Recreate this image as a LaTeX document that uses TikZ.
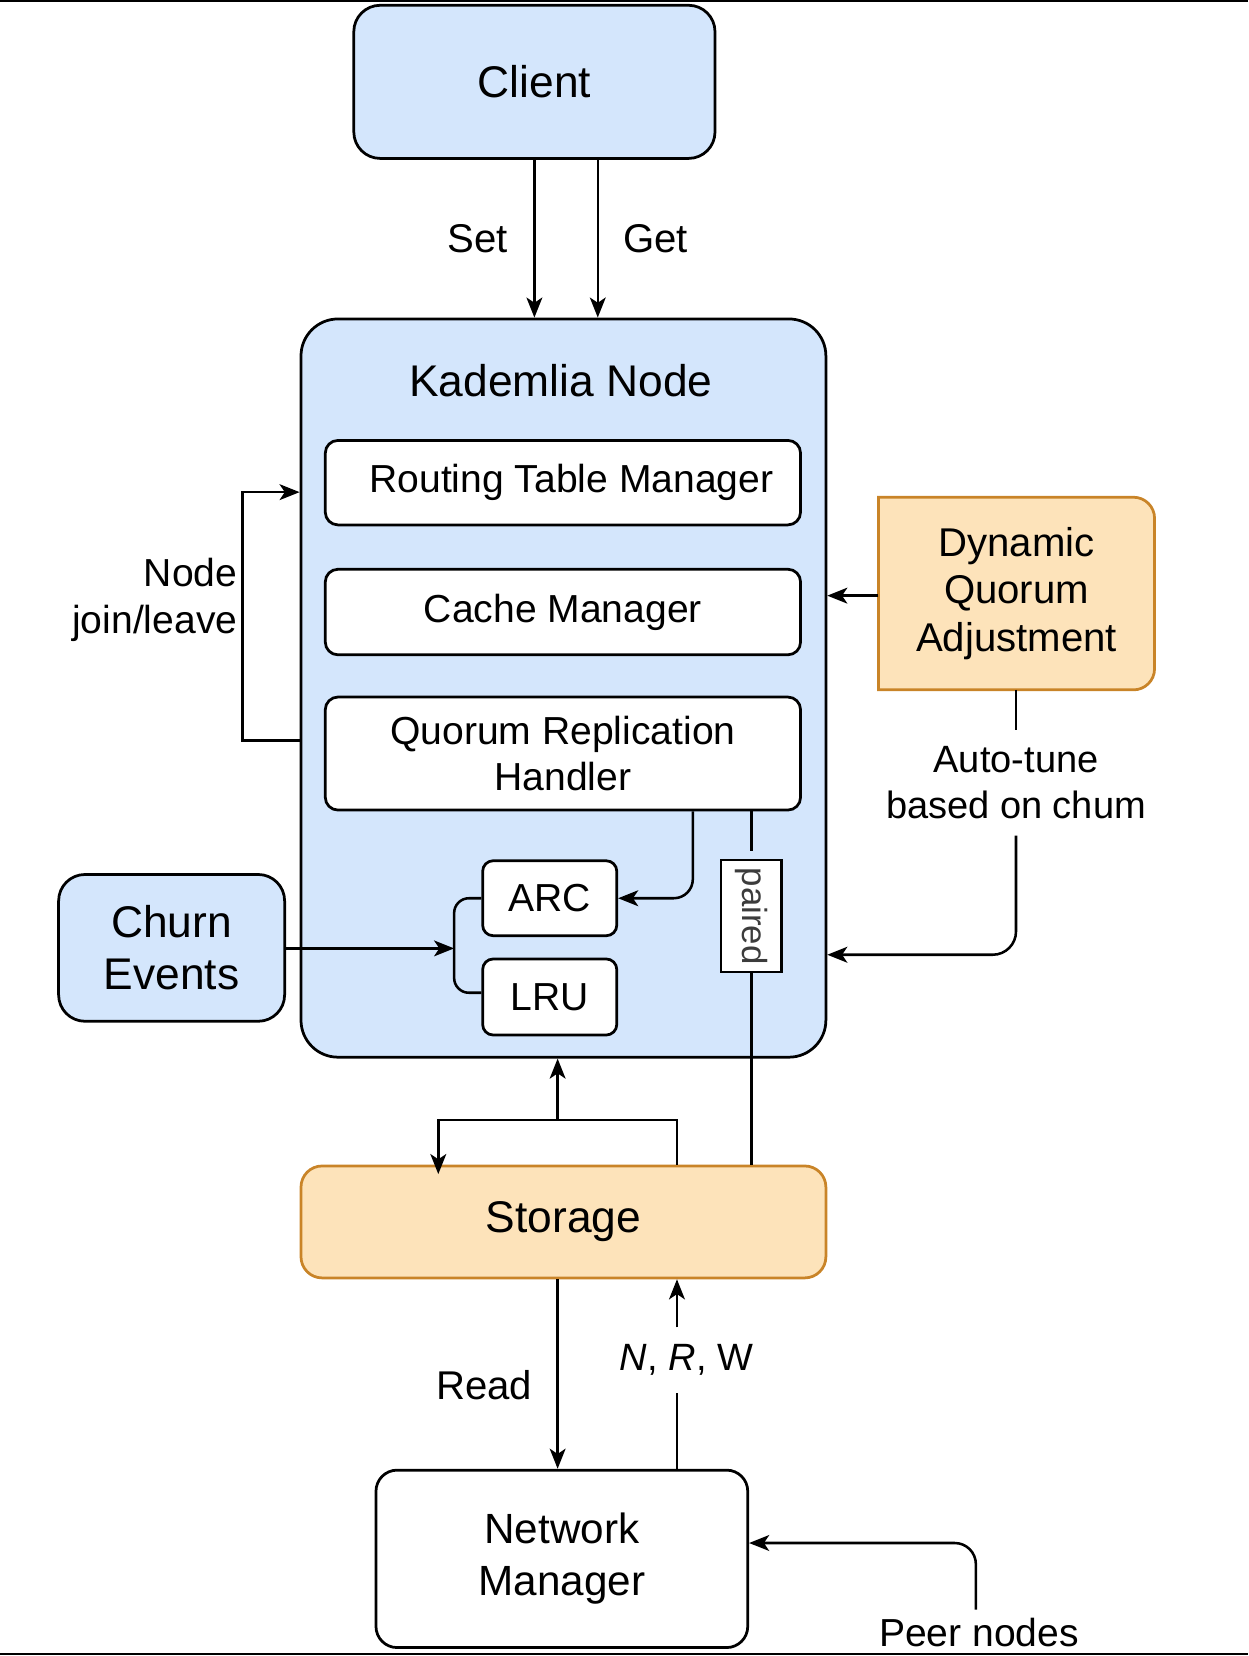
\documentclass[tikz,border=0pt]{standalone}
\usepackage{fontspec}
\setmainfont{Liberation Sans}
\usetikzlibrary{arrows.meta,backgrounds}

\definecolor{kadblue}{HTML}{D4E6FC}
\definecolor{adjfill}{HTML}{FDE3BA}
\definecolor{adjline}{HTML}{C98428}
\definecolor{tagtext}{HTML}{3C3C3C}

\begin{document}
\begin{tikzpicture}[x=1pt,y=-1pt,
  box/.style={draw, line width=2.6pt, rounded corners=#1, align=center, inner sep=0pt},
  box/.default=12pt,
  big/.style={font=\fontsize{42}{49}\selectfont},
  mid/.style={font=\fontsize{38}{45}\selectfont},
  small/.style={font=\fontsize{37}{44}\selectfont},
  lbl/.style={inner sep=0pt, align=center},
  conn/.style={line width=2.4pt, -{Stealth[length=19pt,width=15pt,inset=5pt]}},
  wire/.style={line width=2.4pt}]
\useasboundingbox (0,0) rectangle (1182,1568);
\draw[line width=2pt] (0,1) -- (1182,1); % top edge
\draw[line width=2pt] (0,1566.5) -- (1182,1566.5); % bottom edge

% boxes
\node[box=25pt, fill=kadblue, minimum width=342, minimum height=145, big] (client) at (506,77.5) {Client};
\node[box=35pt, fill=kadblue, minimum width=497, minimum height=699] (kad) at (533.5,651.5) {};
\node[lbl, big] (kadtitle) at (531,360) {Kademlia Node};
\node[box, fill=white, minimum width=450, minimum height=80] (rtm) at (533,457) {};
\node[lbl, small] (rtmtext) at (541,457) {Routing Table Manager};
\node[box, fill=white, minimum width=450, minimum height=81, small] (cache) at (533,579.5) {Cache Manager};
\node[box, fill=white, minimum width=450, minimum height=107, small] (qrh) at (533,713.5) {Quorum Replication\\Handler};
\node[box=10pt, fill=white, minimum width=127, minimum height=71, small] (arc) at (520.5,850.5) {ARC};
\node[box=10pt, fill=white, minimum width=127, minimum height=72, small] (lru) at (520.5,944) {LRU};
\node[draw, line width=2pt, fill=white, inner sep=0pt, minimum width=57, minimum height=106,
  text=tagtext, font=\fontsize{33}{40}\selectfont] (paired) at (711.5,867.5) {\rotatebox{-90}{paired}};
\node[box=25pt, fill=kadblue, minimum width=214, minimum height=139, big] (churn) at (162.5,897.5) {Churn\\Events};
\node[lbl, mid, minimum width=261, minimum height=182] (dqa) at (962.5,562) {Dynamic\\Quorum\\Adjustment};
\begin{scope}[on background layer]
\draw[line width=2.6pt, draw=adjline, fill=adjfill] (dqa.south west) -- (dqa.north west) [rounded corners=20pt]
  -- (dqa.north east) -- (dqa.south east) [sharp corners] -- (dqa.south west) -- cycle;
\end{scope}
\node[box=20pt, draw=adjline, fill=adjfill, minimum width=497, minimum height=106, big] (store) at (533.5,1157) {Storage};
\node[box=20pt, fill=white, minimum width=352, minimum height=168, font=\fontsize{40}{49}\selectfont] (nm) at (532,1476) {Network\\Manager};

% labels
\node[lbl, small, anchor=east, align=right] (joinlbl) at (225,568) {Node\\join/leave};
\node[lbl, font=\fontsize{36}{43}\selectfont, minimum height=100] (autotune) at (962,741) {Auto-tune\\based on chum};
\node[lbl, font=\fontsize{36}{43}\selectfont, minimum height=62] (nrw) at (650,1288) {\textit{N}, \textit{R}, W};
\node[lbl, small, anchor=north] (peer) at (927,1532) {Peer nodes};
\coordinate (fork) at (430,898);
\coordinate (split) at (528,1060.5);

% connectors
\draw[conn] (client.south) -- (client.south |- kad.north) node[lbl, mid, midway, left=24pt] {Set};
\draw[conn] ([xshift=60pt]client.south) -- ([xshift=60pt]client.south |- kad.north) node[lbl, mid, midway, right=23pt] {Get};
\draw[conn] (kad.west |- 0,701) -- ++(-54,0) |- (kad.west |- 0,466);
\draw[conn] (dqa.west |- 0,564) -- (kad.east |- 0,564);
\draw[wire] (dqa.south -| autotune.north) -- (autotune.north);
\draw[conn, rounded corners=22pt] (autotune.south) |- (kad.east |- 0,904);
\draw[conn, rounded corners=18pt] (qrh.south -| 656,0) |- (arc.east);
\draw[wire, shorten >=8pt] (qrh.south -| paired.north) -- (paired.north);
\draw[wire] (paired.south) -- (paired.south |- store.north);
\draw[wire, rounded corners=14pt] (arc.west) -| (fork) |- ([yshift=4pt]lru.west);
\draw[conn] (churn.east |- fork) -- (fork);
\draw[conn] (split) -- (split |- kad.south);
\draw[conn] (store.north -| 641,0) |- (split) -| ([yshift=-9pt]store.north -| 415,0);
\draw[conn] (store.south -| split) -- (nm.north -| split) node[lbl, mid, pos=0.56, left=23pt] {Read};
\draw[wire] (nm.north -| 641,0) -- (nrw.south -| 641,0);
\draw[conn] (nrw.north -| 641,0) -- (store.south -| 641,0);
\draw[conn, rounded corners=20pt] ([yshift=8pt]peer.north -| 924,0) |- (nm.east |- 0,1461);
\end{tikzpicture}
\end{document}
